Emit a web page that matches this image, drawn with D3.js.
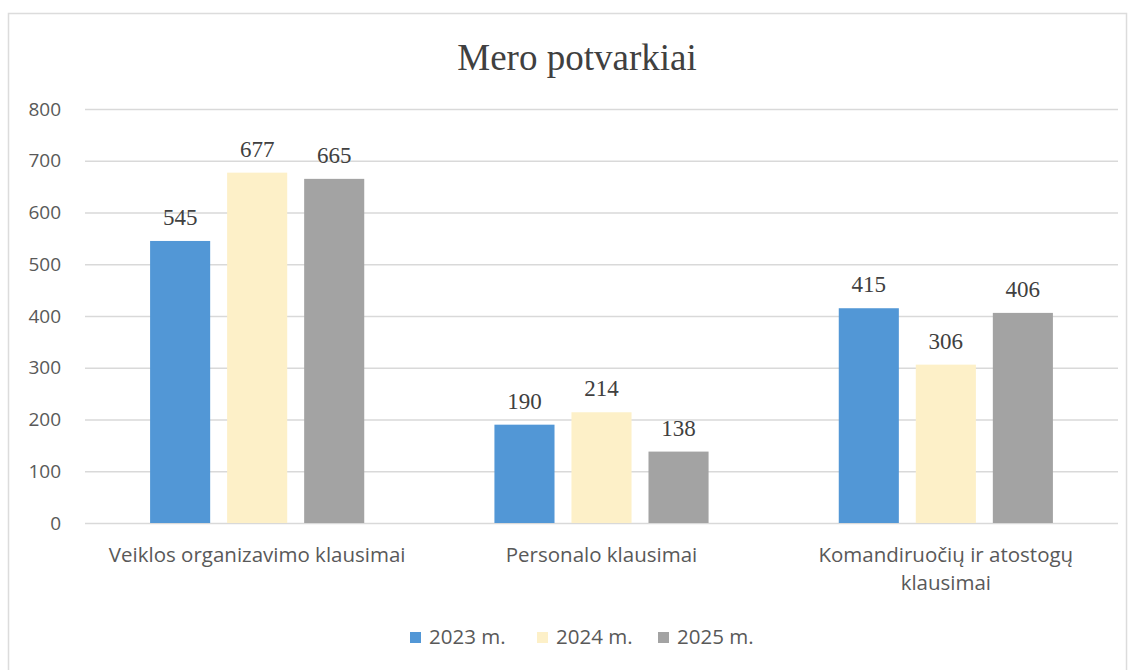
<!DOCTYPE html>
<html><head><meta charset="utf-8">
<script src="https://cdn.jsdelivr.net/npm/d3@7"></script>
<style>body{margin:0;background:#fff}</style>
</head><body>
<svg id="c" width="1138" height="670"></svg>
<script>
const categories = [["Veiklos organizavimo klausimai"], ["Personalo klausimai"], ["Komandiruočių ir atostogų", "klausimai"]];
const series = ["2023 m.", "2024 m.", "2025 m."];
const values2023 = [545, 190, 415];
const values2024 = [677, 214, 306];
const values2025 = [665, 138, 406];
const yTicks = [0, 100, 200, 300, 400, 500, 600, 700, 800];
const colors = ["#5297d6", "#fdf0c8", "#a3a3a3"];
const title = "Mero potvarkiai";

(function () {
const seriesValues = [values2023, values2024, values2025];
const svg = d3.select("#c");
svg.append("rect").attr("x", 8.5).attr("y", 13.5).attr("width", 1118).attr("height", 660)
  .attr("fill", "#fff").attr("stroke", "#dcdcdc").attr("stroke-width", 1.5);

const mLeft = 85, mRight = 1118, mTop = 109, mBottom = 523;
const catIdx = categories.map((d, i) => i);
const x0 = d3.scaleBand().domain(catIdx).range([mLeft, mRight]).padding(0);
const x1 = d3.scaleBand().domain(series).range([0, x0.bandwidth()]).paddingInner(0.22).paddingOuter(0.845);
const y = d3.scaleLinear().domain([0, 800]).range([mBottom, mTop]);

const yAxis = d3.axisLeft(y).tickValues(yTicks).tickSize(-(mRight - mLeft)).tickPadding(24).tickFormat(d3.format("d"));
const gy = svg.append("g").attr("transform", `translate(${mLeft},0)`).call(yAxis);
gy.select(".domain").remove();
gy.selectAll(".tick line").attr("stroke", "#d9d9d9").attr("stroke-width", 1.3);
gy.selectAll(".tick text").attr("font-family", "Open Sans").attr("font-size", 19).attr("fill", "#595959");

svg.append("text").attr("x", 577).attr("y", 70).attr("text-anchor", "middle")
  .attr("font-family", "Liberation Serif").attr("font-size", 37).attr("fill", "#404040").text(title);

const groups = svg.append("g").selectAll("g").data(catIdx).join("g")
  .attr("transform", d => `translate(${x0(d)},0)`);
groups.selectAll("rect").data(c => series.map((s, k) => ({s, k, v: seriesValues[k][c]}))).join("rect")
  .attr("x", d => x1(d.s)).attr("width", x1.bandwidth())
  .attr("y", d => y(d.v)).attr("height", d => y(0) - y(d.v)).attr("fill", d => colors[d.k]);
groups.selectAll("text.lbl").data(c => series.map((s, k) => ({s, k, v: seriesValues[k][c]}))).join("text")
  .attr("class", "lbl").attr("x", d => x1(d.s) + x1.bandwidth() / 2).attr("y", d => y(d.v) - 16)
  .attr("text-anchor", "middle").attr("font-family", "Liberation Serif").attr("font-size", 23)
  .attr("fill", "#404040").text(d => d.v);

const gx = svg.append("g");
catIdx.forEach(i => {
  categories[i].forEach((line, j) => {
    gx.append("text").attr("x", x0(i) + x0.bandwidth() / 2).attr("y", 562 + j * 28)
      .attr("text-anchor", "middle").attr("font-family", "Open Sans").attr("font-size", 20.5)
      .attr("fill", "#595959").text(line);
  });
});

const legX = [410, 537, 658];
const lg = svg.append("g");
series.forEach((s, k) => {
  lg.append("rect").attr("x", legX[k]).attr("y", 632).attr("width", 11).attr("height", 11).attr("fill", colors[k]);
  lg.append("text").attr("x", legX[k] + 19).attr("y", 644).attr("font-family", "Open Sans").attr("font-size", 20.5)
    .attr("fill", "#595959").text(s);
});
})();
</script>
</body></html>
